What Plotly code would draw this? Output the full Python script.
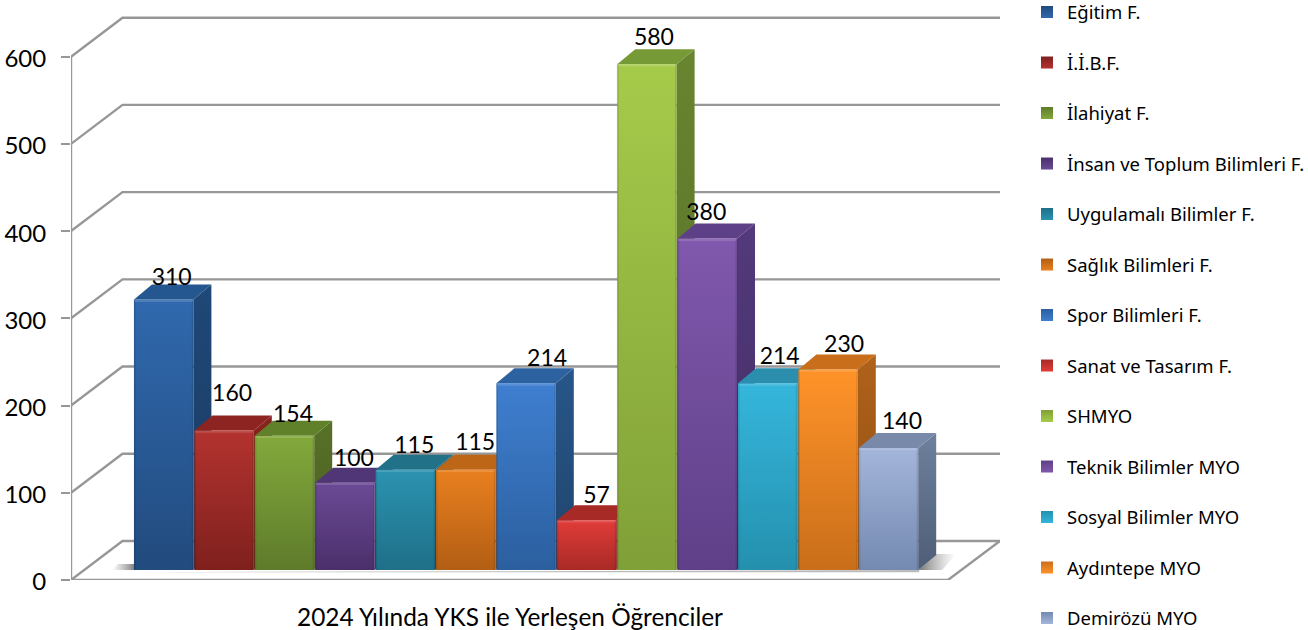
import plotly.graph_objects as go

categories = ["Eğitim F.", "İ.İ.B.F.", "İlahiyat F.", "İnsan ve Toplum Bilimleri F.",
              "Uygulamalı Bilimler F.", "Sağlık Bilimleri F.", "Spor Bilimleri F.",
              "Sanat ve Tasarım F.", "SHMYO", "Teknik Bilimler MYO",
              "Sosyal Bilimler MYO", "Aydıntepe MYO", "Demirözü MYO"]
values = [310, 160, 154, 100, 115, 115, 214, 57, 580, 380, 214, 230, 140]
y_ticks = [0, 100, 200, 300, 400, 500, 600]
axis_label = "2024 Yılında YKS ile Yerleşen Öğrenciler"

# style: front top, front bottom, side top, side bottom, top face
front_top = ["#3069AE", "#B3332F", "#83A93C", "#6B4A95", "#2B93B0", "#E9801F", "#3F7FD0",
             "#E03C38", "#A6CB4A", "#8058AD", "#35B6DC", "#FF9329", "#A4B5DB"]
front_bot = ["#224B7E", "#7F201D", "#5E7B2B", "#4A2F6B", "#1F6F88", "#B25E14", "#2B5F9F",
             "#A92A26", "#80A038", "#5F4088", "#2490AE", "#C96E1A", "#748AB1"]
side_top = ["#1F4878", "#8A2320", "#587128", "#4E3573", "#1E677D", "#AD5C15", "#285689",
            "#992622", "#688530", "#533A7C", "#227F9A", "#B0621A", "#6F809D"]
side_bot = ["#1A3A60", "#6A1A18", "#475C20", "#3B2758", "#185364", "#8A4A11", "#1F446C",
            "#7E1F1C", "#536A26", "#402C60", "#1B667C", "#8D4E14", "#4E5E78"]
top_face = ["#24568F", "#8D2421", "#608029", "#503676", "#217289", "#BE6617", "#2D62A0",
            "#A82A26", "#769A35", "#5E4088", "#2A8EAC", "#C96F1B", "#7889A9"]

# label offsets from the bar's front top-centre (pixels)
label_dx = [8, 8, 8.5, 9, 9, 9.5, 21, 10, 7, -1, 12, 16, 13.5]
label_dy = [20, 35, 19, 23, 22, 25, 23, 23, 25, 24, 25, 23, 25]

# geometry
PX_CAT, PX_VAL = 60.4, 0.872
X0 = 134.0
LEFT, RIGHT, FRONT_RIGHT = 71.0, 1000.0, 948.0
ux = lambda px: (px - X0) / PX_CAT      # pixel offset -> category units
WALL_X, WALL_Y = 51.5 / PX_CAT, 39 / PX_VAL
DEPTH_X, DEPTH_Y = 18 / PX_CAT, 15 / PX_VAL
BASE = 10 / PX_VAL
BAR_W = 59.4 / PX_CAT
GRID = "#979797"
FONT = "Lato"

fig = go.Figure()

def poly(xs, ys, **kw):
    fig.add_trace(go.Scatter(x=xs + xs[:1], y=ys + ys[:1], mode="lines", fill="toself",
                             line=dict(width=0), hoverinfo="skip", showlegend=False,
                             cliponaxis=False, **kw))

def line(xs, ys, color=GRID, width=2.4):
    fig.add_trace(go.Scatter(x=xs, y=ys, mode="lines", line=dict(color=color, width=width),
                             hoverinfo="skip", showlegend=False, cliponaxis=False))

x_left, x_right, x_front = ux(LEFT), ux(RIGHT), ux(FRONT_RIGHT)

# walls and floor grid
for t in y_ticks:
    line([x_left, x_left + WALL_X, x_right], [t, t + WALL_Y, t + WALL_Y])
line([x_right, x_front, x_left], [WALL_Y, 0, 0])
line([x_left, x_left], [0, y_ticks[-1]])
line([x_left, x_left], [-9, 0])
line([x_front, x_front], [-9, 0])

# floor shadows
poly([ux(112), 0, 0, ux(118)], [BASE, BASE, BASE + 7, BASE + 7],
     fillgradient=dict(type="horizontal", colorscale=[[0, "rgba(120,120,120,0)"], [1, "rgba(90,90,90,0.75)"]]))
poly([0, 13 * 1.0, 13 * 1.0], [BASE - 2.5, BASE - 2.5, BASE], fillcolor="rgba(170,170,170,0.8)")
last_x = 12 + BAR_W
poly([last_x, last_x + 24 / PX_CAT, last_x + 38 / PX_CAT, last_x + DEPTH_X],
     [BASE, BASE, BASE + DEPTH_Y + 1, BASE + DEPTH_Y + 1],
     fillgradient=dict(type="horizontal", colorscale=[[0, "rgba(80,80,80,0.8)"], [1, "rgba(150,150,150,0)"]]))

# bars
for i, v in enumerate(values):
    l, r, b, t = i, i + BAR_W, BASE, BASE + v
    poly([r, r + DEPTH_X, r + DEPTH_X, r], [b, b + DEPTH_Y, t + DEPTH_Y, t],
         fillgradient=dict(type="vertical", colorscale=[[0, side_bot[i]], [1, side_top[i]]]))
    poly([l, r, r + DEPTH_X, l + DEPTH_X], [t, t, t + DEPTH_Y, t + DEPTH_Y], fillcolor=top_face[i])
    poly([l, r, r, l], [b, b, t, t],
         fillgradient=dict(type="vertical", colorscale=[[0, front_bot[i]], [1, front_top[i]]]))
    line([l + 0.01, l + 0.01], [b, t], color="rgba(0,0,0,0.10)", width=2)
    line([r - 0.01, r - 0.01], [b, t], color="rgba(0,0,0,0.10)", width=2)
    line([l + 0.01, r - 0.01], [t - 1.5, t - 1.5], color="rgba(255,255,255,0.14)", width=2)

# value labels
fig.add_trace(go.Scatter(
    x=[i + BAR_W / 2 + label_dx[i] / PX_CAT for i in range(len(values))],
    y=[BASE + v + label_dy[i] / PX_VAL for i, v in enumerate(values)],
    text=[str(v) for v in values], mode="text", textposition="middle center",
    textfont=dict(family=FONT, size=23, color="#000000"),
    hoverinfo="skip", showlegend=False, cliponaxis=False))

# legend
for i, c in enumerate(categories):
    fig.add_trace(go.Scatter(
        x=[None], y=[None], mode="markers", name=c, legendgroup=c,
        marker=dict(symbol="square", size=12, color=front_bot[i],
                    gradient=dict(type="vertical", color=front_top[i]))))

fig.update_layout(
    width=1308, height=630, margin=dict(l=71, r=308, t=0, b=50, autoexpand=False),
    paper_bgcolor="white", plot_bgcolor="white", font=dict(family=FONT, color="#000000"),
    showlegend=True,
    legend=dict(x=(1027 - LEFT) / (RIGHT - LEFT), xanchor="left", y=1.0 + 6.5 / 580, yanchor="top",
                yref="paper", tracegroupgap=23.45, font=dict(family="Noto Sans", size=18.5, color="#000000"),
                bgcolor="rgba(0,0,0,0)", itemwidth=30, maxheight=700),
    xaxis=dict(range=[x_left, x_right], showgrid=False, zeroline=False, showline=False,
               tickmode="array", tickvals=[ux(510)], ticktext=[axis_label], ticks="",
               ticklabelstandoff=21, tickfont=dict(family=FONT, size=24.4, color="#000000")),
    yaxis=dict(range=[0, 665], showgrid=False, zeroline=False, showline=False,
               tickmode="array", tickvals=y_ticks, ticks="outside", ticklen=9, tickwidth=2.4,
               tickcolor=GRID, ticklabelstandoff=10, ticklabelshift=2,
               tickfont=dict(family=FONT, size=24, color="#000000")),
)

fig.write_html("out.html", config=dict(displayModeBar=False),
               post_script="document.body.style.margin='0';document.body.style.overflow='hidden';")
